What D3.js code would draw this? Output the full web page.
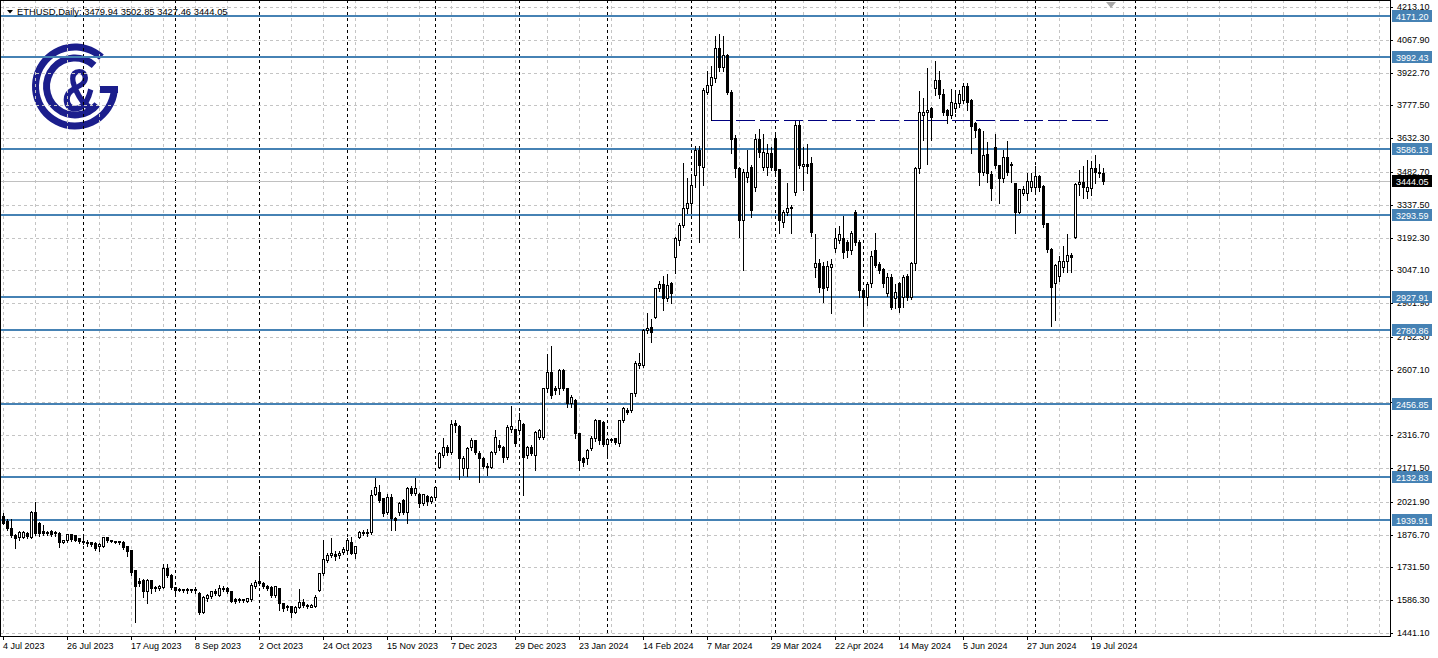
<!DOCTYPE html>
<html><head><meta charset="utf-8">
<script src="https://cdn.jsdelivr.net/npm/d3@7"></script>
<style>
html,body{margin:0;padding:0;background:#fff;overflow:hidden}
text{font-family:"Liberation Sans",Arial,sans-serif}
</style></head><body>
<script>
// ---------- DATA ----------
const open=[1960,1939,1905,1876,1865,1868,1885,1865,1978,1927,
1893,1890,1893,1882,1886,1846,1853,1880,1876,1860,
1850,1846,1845,1840,1826,1826,1865,1852,1850,1848,
1846,1826,1808,1720,1673,1676,1625,1677,1646,1640,
1644,1727,1700,1645,1633,1636,1630,1634,1630,1617,
1536,1597,1603,1625,1610,1642,1640,1625,1590,1588,
1590,1585,1590,1650,1670,1664,1650,1646,1610,1640,
1573,1555,1560,1536,1555,1580,1565,1558,1562,1632,
1705,1765,1785,1793,1787,1800,1810,1846,1797,1868,
1888,1885,1890,2056,2066,2040,1978,2045,1949,1978,
2030,1978,2081,2060,2056,2015,2048,2025,2042,2177,
2229,2266,2244,2370,2358,2170,2170,2263,2296,2237,
2215,2180,2177,2244,2273,2266,2219,2345,2343,2340,
2365,2229,2266,2229,2310,2310,2525,2598,2525,2525,
2605,2525,2458,2473,2325,2215,2215,2259,2303,2384,
2377,2278,2300,2303,2281,2384,2428,2428,2502,2628,
2628,2783,2795,2842,2967,2985,2923,2989,3108,3181,
3248,3322,3344,3469,3580,3506,3838,3868,3897,4030,
3949,4000,3838,3631,3499,3270,3459,3506,3418,3627,
3506,3506,3565,3631,3494,3262,3307,3329,3395,3690,
3510,3516,3521,3063,3081,3066,2975,3063,3144,3181,
3189,3174,3137,3307,3174,2960,2930,2989,3137,3075,
3052,2945,3019,2923,2989,2930,3022,2930,3078,3499,
3735,3750,3764,3853,3890,3828,3757,3735,3768,3790,
3801,3863,3801,3698,3671,3484,3560,3474,3595,3513,
3454,3550,3520,3435,3307,3388,3388,3414,3415,3465,
3420,3255,3140,2992,3020,3063,3090,3115,3196,3429,
3440,3400,3410,3499,3484,3479.94];
const high=[1975,1950,1949,1882,1895,1897,1893,1985,2027,1935,
1925,1899,1902,1895,1893,1858,1886,1885,1880,1865,
1870,1858,1850,1848,1842,1872,1870,1856,1853,1855,
1853,1830,1812,1722,1690,1683,1683,1680,1655,1658,
1750,1750,1705,1650,1645,1642,1645,1640,1648,1625,
1610,1620,1630,1640,1660,1655,1650,1630,1600,1600,
1598,1602,1665,1680,1787,1670,1660,1652,1655,1645,
1580,1570,1565,1565,1640,1595,1572,1575,1615,1710,
1856,1800,1865,1810,1810,1825,1868,1870,1830,1895,
1900,1905,2080,2133,2100,2045,2060,2060,1960,2025,
2040,2090,2095,2133,2065,2062,2055,2050,2095,2245,
2310,2280,2387,2387,2365,2230,2270,2310,2300,2250,
2225,2200,2250,2343,2300,2275,2365,2450,2350,2420,
2375,2275,2280,2340,2350,2530,2683,2716,2540,2615,
2615,2530,2500,2480,2330,2225,2260,2320,2395,2390,
2385,2310,2310,2310,2390,2445,2440,2510,2650,2687,
2790,2864,2834,2975,3004,3026,3034,3000,3200,3260,
3528,3460,3469,3600,3600,3860,3934,3956,4089,4096,
4089,4008,3850,3650,3510,3500,3583,3520,3654,3676,
3654,3609,3598,3654,3500,3320,3440,3340,3713,3713,
3598,3609,3553,3211,3100,3090,3095,3100,3240,3248,
3292,3185,3225,3320,3185,2975,3000,3137,3218,3090,
3060,3040,3035,2989,3000,3030,3035,3090,3510,3846,
3816,3949,3775,3978,3934,3853,3765,3853,3838,3850,
3882,3882,3810,3710,3680,3668,3620,3490,3657,3520,
3583,3624,3530,3440,3410,3425,3484,3484,3513,3475,
3430,3260,3150,3080,3115,3159,3211,3130,3440,3494,
3513,3538,3535,3562,3524,3502.85];
const low=[1922,1895,1865,1819,1855,1860,1863,1860,1875,1870,
1875,1876,1872,1870,1824,1838,1846,1850,1850,1838,
1835,1826,1825,1808,1802,1820,1845,1842,1838,1836,
1815,1780,1700,1490,1650,1600,1573,1620,1625,1630,
1640,1690,1635,1620,1625,1622,1620,1622,1620,1525,
1530,1585,1595,1610,1605,1625,1620,1580,1575,1580,
1580,1580,1585,1640,1655,1640,1630,1600,1600,1543,
1540,1545,1514,1528,1550,1555,1550,1555,1555,1625,
1700,1755,1778,1765,1775,1790,1795,1790,1772,1860,
1875,1870,1880,2050,2020,1960,1970,1897,1897,1965,
1970,1926,2050,2050,2000,2010,2010,2015,2035,2170,
2220,2230,2235,2330,2122,2140,2136,2250,2235,2111,
2170,2140,2170,2235,2250,2200,2210,2330,2270,2330,
2052,2215,2230,2163,2300,2300,2510,2480,2500,2500,
2515,2440,2440,2303,2163,2180,2190,2250,2290,2280,
2270,2230,2285,2280,2270,2375,2410,2420,2490,2615,
2620,2770,2731,2835,2955,2871,2910,2901,3034,3159,
3240,3299,3299,3417,3174,3425,3830,3713,3880,3930,
3930,3830,3565,3462,3196,3048,3440,3285,3400,3550,
3490,3469,3490,3480,3211,3240,3290,3211,3380,3500,
3403,3476,3200,3019,2950,2908,2960,2857,3130,3170,
3100,3108,3120,3160,2930,2812,2893,2975,3060,3035,
2975,2935,2875,2879,2864,2886,2915,2920,3048,3480,
3624,3520,3624,3823,3810,3735,3698,3720,3750,3770,
3790,3757,3565,3639,3425,3470,3440,3358,3500,3344,
3440,3470,3440,3214,3300,3380,3358,3400,3400,3400,
3240,3130,2801,2827,3000,3040,3041,3040,3190,3380,
3366,3366,3380,3432,3460,3427.46];
const close=[1930,1905,1875,1862,1890,1890,1872,1978,1883,1886,
1885,1885,1880,1890,1846,1852,1880,1857,1855,1849,
1846,1840,1836,1816,1836,1865,1855,1848,1844,1842,
1824,1802,1713,1650,1664,1625,1678,1640,1640,1648,
1728,1700,1645,1632,1637,1630,1635,1630,1636,1532,
1602,1608,1625,1618,1640,1635,1625,1585,1585,1592,
1587,1595,1655,1665,1662,1650,1640,1610,1650,1573,
1551,1560,1536,1558,1580,1565,1560,1565,1602,1705,
1768,1787,1797,1780,1795,1815,1853,1797,1826,1890,
1884,1890,2052,2089,2030,1974,2042,1949,1943,2018,
1978,2081,2062,2081,2015,2056,2025,2045,2086,2236,
2266,2244,2365,2362,2215,2215,2259,2296,2244,2215,
2181,2177,2244,2308,2266,2222,2355,2358,2281,2384,
2222,2266,2240,2333,2340,2525,2598,2495,2518,2605,
2525,2458,2488,2325,2207,2200,2251,2303,2384,2296,
2278,2300,2296,2288,2384,2436,2421,2502,2635,2635,
2783,2790,2775,2967,2985,2923,2982,2945,3189,3248,
3322,3344,3425,3580,3513,3846,3868,3905,4030,3949,
4000,3838,3627,3499,3270,3484,3484,3314,3627,3572,
3572,3565,3506,3491,3270,3307,3322,3322,3690,3513,
3516,3510,3218,3078,2975,2967,3066,3075,3189,3208,
3130,3137,3211,3174,2960,2930,2986,3110,3070,3048,
2989,3019,2886,2952,2886,3019,2930,3078,3499,3750,
3750,3757,3727,3890,3828,3750,3735,3794,3790,3828,
3863,3794,3686,3668,3484,3558,3478,3410,3513,3454,
3550,3484,3514,3307,3406,3406,3443,3443,3465,3415,
3252,3140,2972,3071,3090,3090,3115,3105,3429,3440,
3415,3415,3499,3484,3479,3444.05];

const dateTickBars=[0,16,32,48,64,80,96,112,128,144,160,176,192,208,224,240,256,272];
const dateTickLabels=["4 Jul 2023","26 Jul 2023","17 Aug 2023","8 Sep 2023","2 Oct 2023","24 Oct 2023",
"15 Nov 2023","7 Dec 2023","29 Dec 2023","23 Jan 2024","14 Feb 2024","7 Mar 2024","29 Mar 2024",
"22 Apr 2024","14 May 2024","5 Jun 2024","27 Jun 2024","19 Jul 2024"];
const priceTicks=[4213.10,4067.90,3922.70,3777.50,3632.30,3482.70,3337.50,3192.30,3047.10,2901.90,
2752.30,2607.10,2461.90,2316.70,2171.50,2021.90,1876.70,1731.50,1586.30,1441.10];
const levels=[4171.20,3992.43,3586.13,3293.59,2927.91,2780.86,2456.85,2132.83,1939.91];
const monthStartBars=[20,43,64,86,108,129,151,172,193,215,238,258,283];
const resistanceLevel=3712;
const resistanceBars=[177,276];
const lastPrice=3444.05;
const titleText="ETHUSD,Daily: 3479.94 3502.85 3427.46 3444.05";

// ---------- LAYOUT ----------
const W=1438,H=658,plotR=1390,plotB=636;
const FONT='"Liberation Sans",Arial,sans-serif';
const svg=d3.select("body").append("svg").attr("width",W).attr("height",H).style("display","block");
svg.append("rect").attr("width",W).attr("height",H).attr("fill","#fff");

const x=d3.scaleLinear().domain([0,275]).range([3,1103]);
const y=d3.scaleLinear().domain([1441.1,4213.1]).range([633,7]).interpolate(d3.interpolateRound);
const cx=i=>x(i)+0.5, py=v=>y(v)+0.5;

svg.append("defs").append("clipPath").attr("id","plot").append("rect")
  .attr("x",0).attr("y",0).attr("width",plotR).attr("height",plotB);
const plot=svg.append("g").attr("clip-path","url(#plot)");

// ---------- LOGO ----------
const navy="#1b1e8c";
const logo=plot.append("g").attr("transform","translate(75,86.5)");
logo.append("path").attr("fill",navy)
  .attr("d",d3.arc().innerRadius(36).outerRadius(43).startAngle(-1.5*Math.PI).endAngle(42*Math.PI/180)());
logo.append("rect").attr("fill",navy).attr("x",25).attr("y",-0.5).attr("width",18).attr("height",7);
logo.append("path").attr("fill",navy)
  .attr("d",d3.arc().innerRadius(25).outerRadius(32).startAngle(129*Math.PI/180).endAngle(402*Math.PI/180)());
logo.append("text").attr("transform","translate(4.5,24) scale(0.8,1)").attr("text-anchor","middle")
  .attr("font-size",62).attr("font-weight","bold").attr("fill",navy).style("font-family",FONT).text("&");

// ---------- GRID ----------
const grid=plot.append("g").attr("shape-rendering","crispEdges");
grid.selectAll(".hg").data(priceTicks).join("line")
  .attr("x1",0).attr("x2",plotR).attr("y1",py).attr("y2",py)
  .attr("stroke","#c4c4c4").attr("stroke-dasharray","3,3");
grid.selectAll(".vg").data(d3.range(0,400,8).filter(i=>x(i)<plotR)).join("line")
  .attr("class","vg").attr("x1",cx).attr("x2",cx).attr("y1",0).attr("y2",plotB)
  .attr("stroke","#c4c4c4").attr("stroke-dasharray","3,3");
grid.selectAll(".ms").data(monthStartBars).join("line")
  .attr("class","ms").attr("x1",cx).attr("x2",cx).attr("y1",0).attr("y2",plotB)
  .attr("stroke","#000").attr("stroke-dasharray","3,3");

// current price line
plot.append("line").attr("x1",0).attr("x2",plotR).attr("y1",py(lastPrice)).attr("y2",py(lastPrice))
  .attr("stroke","#c0c0c0").attr("shape-rendering","crispEdges");

// levels
plot.selectAll(".lvl").data(levels).join("line").attr("class","lvl")
  .attr("x1",0).attr("x2",plotR).attr("y1",d=>y(d)).attr("y2",d=>y(d))
  .attr("stroke","#4682b4").attr("stroke-width",2).attr("shape-rendering","crispEdges");

// resistance dashed
plot.append("line").attr("x1",cx(resistanceBars[0])).attr("x2",cx(resistanceBars[1]))
  .attr("y1",py(resistanceLevel)).attr("y2",py(resistanceLevel))
  .attr("stroke","#000080").attr("stroke-dasharray","19,5").attr("shape-rendering","crispEdges");

// ---------- CANDLES ----------
const idx=d3.range(open.length);
const cg=plot.append("g").attr("shape-rendering","crispEdges");
cg.selectAll(".wick").data(idx).join("line").attr("class","wick")
  .attr("x1",cx).attr("x2",cx).attr("y1",i=>py(high[i])).attr("y2",i=>py(low[i]))
  .attr("stroke","#000");
cg.selectAll(".body").data(idx).join("path").attr("class","body")
  .attr("d",i=>{const t=py(Math.max(open[i],close[i])),b=py(Math.min(open[i],close[i])),c=cx(i);
    return `M${c-1},${t}H${c+1}V${b}H${c-1}Z`;})
  .attr("fill",i=>close[i]>=open[i]?"#fff":"#000").attr("stroke","#000");

// ---------- FRAME & AXES ----------
svg.append("rect").attr("x",0.5).attr("y",0.5).attr("width",plotR).attr("height",plotB)
  .attr("fill","none").attr("stroke","#000").attr("shape-rendering","crispEdges");

const ay=svg.append("g").attr("transform",`translate(${plotR},0)`)
  .call(d3.axisRight(y).tickValues(priceTicks).tickSize(3).tickPadding(4).tickFormat(d3.format(".2f")));
ay.select(".domain").remove();
ay.attr("font-size",9).attr("font-family",FONT);
ay.selectAll("text").attr("fill","#000");

const ax=svg.append("g").attr("transform",`translate(0,${plotB})`)
  .call(d3.axisBottom(x).tickValues(dateTickBars).tickSize(4).tickPadding(3).tickFormat((d,i)=>dateTickLabels[i]));
ax.select(".domain").remove();
ax.attr("font-size",9).attr("font-family",FONT);
ax.selectAll("text").attr("text-anchor","start").attr("x",-0.5).attr("fill","#000");

// level labels
const lbl=svg.append("g");
levels.forEach(v=>{
  const yy=y(v);
  lbl.append("rect").attr("x",1392).attr("y",yy-6).attr("width",40).attr("height",12).attr("fill","#4682b4");
  lbl.append("text").attr("x",1396).attr("y",yy+3.5).attr("font-size",9).attr("fill","#fff")
    .style("font-family",FONT).text(d3.format(".2f")(v));
});
lbl.append("rect").attr("x",1392).attr("y",y(lastPrice)-6).attr("width",40).attr("height",12).attr("fill","#000");
lbl.append("text").attr("x",1396).attr("y",y(lastPrice)+3.5).attr("font-size",9).attr("fill","#fff")
  .style("font-family",FONT).text(d3.format(".2f")(lastPrice));

// title
svg.append("path").attr("d","M7,10H13L10,13.5Z").attr("fill","#000");
svg.append("text").attr("x",17).attr("y",15).attr("font-size",9.4).attr("fill","#000")
  .style("font-family",FONT).text(titleText);

// chart shift marker
svg.append("path").attr("d","M1106,2H1116L1111,8Z").attr("fill","#a8a8a8");
</script>
</body></html>
